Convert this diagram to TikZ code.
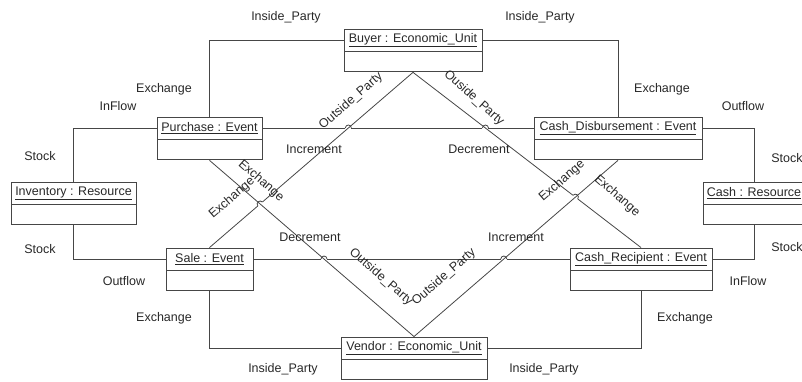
\documentclass[tikz,border=0pt]{standalone}
\usepackage{fontspec}
\setmainfont{Liberation Sans}
\definecolor{ink}{RGB}{40,40,40}
\definecolor{wire}{RGB}{70,70,70}
\begin{document}
\begin{tikzpicture}[x=1pt,y=-1pt,
  every node/.style={text=ink, font=\fontsize{12.5}{15}\selectfont},
  hdr/.style={draw=wire, line width=0.9pt, minimum height=22, inner xsep=2, inner ysep=0, anchor=center},
  comp/.style={draw=wire, line width=0.9pt, minimum height=20, anchor=north, inner sep=0},
  wireline/.style={draw=wire, line width=0.8pt},
  patch/.style={draw=white, line width=2.2pt},
  lbl/.style={inner sep=0}]
\useasboundingbox (0,0) rectangle (802,381);
\clip (0,0) rectangle (802,381);

% boxes
\node[hdr, minimum width=138] (buyer) at (413,40) {\underline{Buyer : Economic\_Unit}};
\node[comp, minimum width=138] (buyerL) at (buyer.south) {};
\node[hdr, minimum width=105] (purchase) at (209.5,128) {\underline{Purchase : Event}};
\node[comp, minimum width=105] (purchaseL) at (purchase.south) {};
\node[hdr, minimum width=168] (cashdisb) at (618,128) {\underline{Cash\_Disbursement : Event}};
\node[comp, minimum width=168] (cashdisbL) at (cashdisb.south) {};
\node[hdr, minimum width=125] (inventory) at (73.5,193) {\underline{Inventory : Resource}};
\node[comp, minimum width=125] (inventoryL) at (inventory.south) {};
\node[hdr, minimum width=102, inner xsep=0] (cash) at (754,193) {\underline{Cash : Resource}};
\node[comp, minimum width=102] (cashL) at (cash.south) {};
\node[hdr, minimum width=87] (sale) at (209.5,259) {\underline{Sale : Event}};
\node[comp, minimum width=87] (saleL) at (sale.south) {};
\node[hdr, minimum width=142] (cashrec) at (641,259) {\underline{Cash\_Recipient : Event}};
\node[comp, minimum width=142] (cashrecL) at (cashrec.south) {};
\node[hdr, minimum width=146] (vendor) at (414,348) {\underline{Vendor : Economic\_Unit}};
\node[comp, minimum width=146] (vendorL) at (vendor.south) {};

% orthogonal connectors
\draw[wireline] (buyer.west) -| (purchase.north);
\draw[wireline] (buyer.east) -| (cashdisb.north);
\draw[wireline] (purchase.east) -- (cashdisb.west);
\draw[wireline] (purchase.west) -| (inventory.north);
\draw[wireline] (cashdisb.east) -| (cash.north);
\draw[wireline] (inventoryL.south) |- (sale.west);
\draw[wireline] (sale.east) -- (cashrec.west);
\draw[wireline] (cashrec.east) -| (cashL.south);
\draw[wireline] (saleL.south) |- (vendor.west);
\draw[wireline] (cashrecL.south) |- (vendor.east);

% crossings
\coordinate (x1) at (intersection of buyerL.south--sale.north and purchase.east--cashdisb.west);
\coordinate (x2) at (intersection of buyerL.south--cashrec.north and purchase.east--cashdisb.west);
\coordinate (x3) at (intersection of purchaseL.south--vendor.north and sale.east--cashrec.west);
\coordinate (x4) at (intersection of cashdisbL.south--vendor.north and sale.east--cashrec.west);
\coordinate (x5) at (intersection of buyerL.south--sale.north and purchaseL.south--vendor.north);
\coordinate (x6) at (intersection of buyerL.south--cashrec.north and cashdisbL.south--vendor.north);

\foreach \p in {x1,x2,x3,x4}
  \draw[patch] ([xshift=-3pt]\p) -- ([xshift=3pt]\p);

% diagonals
\draw[wireline] (buyerL.south) -- (sale.north);
\draw[wireline] (buyerL.south) -- (cashrec.north);
\draw[patch, shift={(x5)}, rotate=41] (-3,0) -- (3,0);
\draw[patch, shift={(x6)}, rotate=-38] (-3,0) -- (3,0);
\draw[wireline] (purchaseL.south) -- (vendor.north);
\draw[wireline] (cashdisbL.south) -- (vendor.north);

% hops
\foreach \p in {x1,x2,x3,x4}
  \draw[wireline] ([xshift=-3pt]\p) arc (180:360:3);
\draw[wireline, shift={(x5)}, rotate=41] (-3,0) arc (180:360:3);
\draw[wireline, shift={(x6)}, rotate=-38] (-3,0) arc (180:360:3);

% labels
\node[lbl] (t1) at (286,17) {Inside\_Party};
\node[lbl] (t2) at (540,17) {Inside\_Party};
\node[lbl] (t3) at (164,89) {Exchange};
\node[lbl] (t4) at (662,89) {Exchange};
\node[lbl] (t5) at (118,106) {InFlow};
\node[lbl] (t6) at (743,106) {Outflow};
\node[lbl] (t7) at (40,156) {Stock};
\node[lbl] (t8) at (787,158) {Stock};
\node[lbl] (t9) at (40,249) {Stock};
\node[lbl] (t10) at (787,247) {Stock};
\node[lbl] (t11) at (124,281) {Outflow};
\node[lbl] (t12) at (748,281) {InFlow};
\node[lbl] (t13) at (164,318) {Exchange};
\node[lbl] (t14) at (685,318) {Exchange};
\node[lbl] (t15) at (283,369) {Inside\_Party};
\node[lbl] (t16) at (544,369) {Inside\_Party};
\node[lbl] (t17) at (314,149) {Increment};
\node[lbl] (t18) at (479,149) {Decrement};
\node[lbl] (t19) at (310,237) {Decrement};
\node[lbl] (t20) at (516,237) {Increment};

% rotated labels
\node[lbl, rotate=41] (r1) at (351,101) {Outside\_Party};
\node[lbl, rotate=-42] (r2) at (474,98) {Ouside\_Party};
\node[lbl, rotate=-41] (r3) at (261,181) {Exchange};
\node[lbl, rotate=41] (r4) at (232,198) {Exchange};
\node[lbl, rotate=41] (r5) at (562,181) {Exchange};
\node[lbl, rotate=-41] (r6) at (617,196) {Exchange};
\node[lbl, rotate=-41] (r7) at (381,277) {Outside\_Party};
\node[lbl, rotate=41] (r8) at (444,277) {Outside\_Party};
\end{tikzpicture}
\end{document}
